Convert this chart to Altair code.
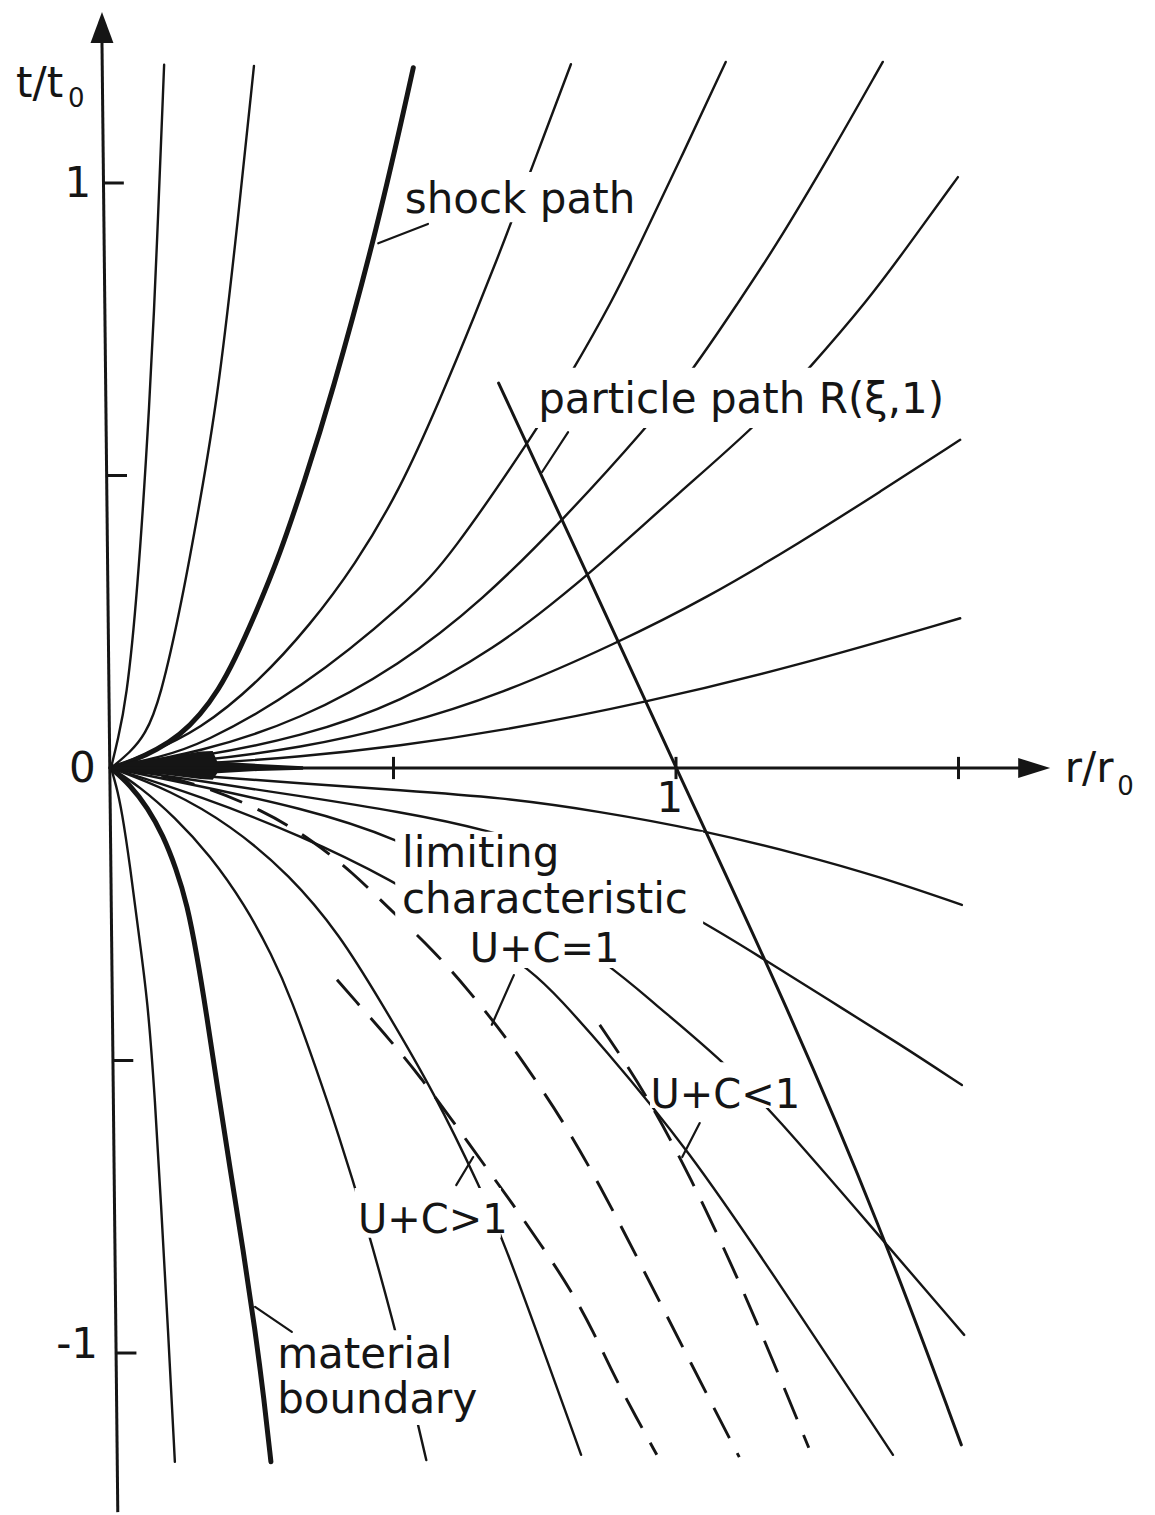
import altair as alt
import pandas as pd

INK = "#151515"
FONT = "DejaVu Sans"

# plotting window, in units of r/r0 (horizontal) and t/t0 (vertical)
R_DOMAIN = [-0.1965, 1.8478]
T_DOMAIN = [-1.2769, 1.3128]

# ---- characteristics above the r axis (t > 0), steepest first
up1_r = [0, 0.012, 0.027, 0.046, 0.069, 0.081, 0.094]
up1_t = [0, 0.048, 0.116, 0.287, 0.629, 0.885, 1.202]
up2_r = [0, 0.034, 0.060, 0.087, 0.126, 0.158, 0.188, 0.219, 0.253]
up2_t = [0, 0.027, 0.056, 0.116, 0.287, 0.458, 0.629, 0.885, 1.200]
up3_r = [0, 0.057, 0.158, 0.264, 0.352, 0.432, 0.511, 0.582, 0.644, 0.697, 0.750, 0.814]
up3_t = [0, 0.021, 0.065, 0.150, 0.244, 0.347, 0.475, 0.629, 0.774, 0.903, 1.039, 1.203]
up4_r = [0, 0.087, 0.158, 0.335, 0.529, 0.600, 0.750, 0.816, 0.888, 0.931, 1.007, 1.088]
up4_t = [0, 0.019, 0.039, 0.133, 0.287, 0.361, 0.573, 0.677, 0.800, 0.885, 1.039, 1.207]
up5_r = [0, 0.158, 0.335, 0.512, 0.658, 0.800, 0.949, 1.030, 1.113, 1.172, 1.273, 1.366]
up5_t = [0, 0.027, 0.082, 0.176, 0.287, 0.424, 0.583, 0.680, 0.800, 0.885, 1.048, 1.207]
up6_r = [0, 0.158, 0.335, 0.512, 0.688, 0.782, 0.848, 1.007, 1.143, 1.237, 1.340, 1.405, 1.499]
up6_t = [0, 0.019, 0.053, 0.111, 0.210, 0.282, 0.333, 0.472, 0.586, 0.684, 0.800, 0.885, 1.010]
up7_r = [0, 0.158, 0.335, 0.512, 0.688, 0.897, 1.055, 1.219, 1.361, 1.503]
up7_t = [0, 0.012, 0.034, 0.072, 0.125, 0.214, 0.291, 0.385, 0.472, 0.561]
up8_r = [0, 0.158, 0.335, 0.512, 0.688, 0.943, 1.219, 1.503]
up8_t = [0, 0.007, 0.019, 0.038, 0.063, 0.111, 0.176, 0.256]

# reflected shock
shock_r = [0, 0.039, 0.081, 0.122, 0.158, 0.190, 0.219, 0.255, 0.299, 0.343, 0.388, 0.473, 0.535]
shock_t = [0, 0.012, 0.031, 0.056, 0.091, 0.133, 0.185, 0.262, 0.365, 0.492, 0.629, 0.928, 1.197]

# ---- characteristics below the r axis (t < 0), flattest first
lo1_r = [0, 0.158, 0.335, 0.512, 0.688, 0.865, 1.044, 1.219, 1.361, 1.506]
lo1_t = [0, -0.014, -0.026, -0.038, -0.050, -0.074, -0.106, -0.147, -0.186, -0.234]
lo2_r = [0, 0.158, 0.335, 0.512, 0.658, 0.848, 1.037, 1.149, 1.271, 1.396, 1.506]
lo2_t = [0, -0.022, -0.048, -0.075, -0.103, -0.161, -0.256, -0.323, -0.397, -0.472, -0.542]
lo3_r = [0, 0.158, 0.335, 0.497, 0.697, 0.894, 0.954, 1.078, 1.175, 1.343, 1.510]
lo3_t = [0, -0.031, -0.068, -0.115, -0.214, -0.345, -0.397, -0.496, -0.593, -0.781, -0.969]
lo4_r = [0, 0.158, 0.335, 0.497, 0.627, 0.750, 0.796, 0.865, 1.023, 1.182, 1.384]
lo4_t = [0, -0.048, -0.115, -0.191, -0.268, -0.350, -0.397, -0.470, -0.653, -0.880, -1.174]
lo5_r = [0, 0.104, 0.211, 0.317, 0.405, 0.476, 0.573, 0.655, 0.696, 0.759, 0.832]
lo5_t = [0, -0.038, -0.097, -0.183, -0.285, -0.397, -0.556, -0.721, -0.812, -0.978, -1.174]
lo6_r = [0, 0.051, 0.113, 0.175, 0.237, 0.285, 0.320, 0.361, 0.402, 0.450, 0.501, 0.529, 0.558]
lo6_t = [0, -0.032, -0.084, -0.149, -0.234, -0.320, -0.397, -0.508, -0.624, -0.773, -0.952, -1.063, -1.183]
lo7_r = [0, 0.009, 0.019, 0.034, 0.048, 0.065, 0.078, 0.088, 0.101, 0.113]
lo7_t = [0, -0.029, -0.072, -0.169, -0.277, -0.397, -0.568, -0.738, -0.961, -1.186]

# material boundary
boundary_r = [0, 0.034, 0.065, 0.092, 0.115, 0.135, 0.152, 0.168, 0.189, 0.211, 0.234, 0.255, 0.271, 0.283]
boundary_t = [0, -0.029, -0.068, -0.115, -0.171, -0.234, -0.320, -0.414, -0.550, -0.687, -0.824, -0.961, -1.080, -1.186]

# characteristics with U + C > 1, = 1 (limiting) and < 1
sonic_gt_r = [0.400, 0.428, 0.494, 0.549, 0.600, 0.658, 0.710, 0.759, 0.814, 0.855, 0.890, 0.929, 0.966]
sonic_gt_t = [-0.362, -0.393, -0.465, -0.530, -0.597, -0.675, -0.744, -0.812, -0.892, -0.966, -1.038, -1.109, -1.174]
sonic_eq_r = [0, 0.087, 0.158, 0.269, 0.356, 0.428, 0.490, 0.570, 0.632, 0.696, 0.754, 0.804, 0.865, 0.931, 1.016, 1.112]
sonic_eq_t = [0, -0.012, -0.029, -0.072, -0.123, -0.179, -0.238, -0.311, -0.379, -0.456, -0.537, -0.610, -0.713, -0.836, -0.998, -1.178]
sonic_lt_r = [0.865, 0.947, 1.028, 1.103, 1.170, 1.235]
sonic_lt_t = [-0.439, -0.556, -0.704, -0.858, -1.009, -1.162]

# particle path R(xi, 1)
particle_r = [0.686, 0.840, 1.000, 1.192, 1.360, 1.505]
particle_t = [0.658, 0.338, 0.000, -0.397, -0.778, -1.157]

# ink pooled where the characteristics run together at the origin
blob_r = [0, 0.039, 0.099, 0.158, 0.180, 0.188, 0.260, 0.340]
blob_hi = [0, 0.012, 0.019, 0.028, 0.029, 0.011, 0.007, 0.003]
blob_lo = [0, -0.007, -0.012, -0.019, -0.020, -0.009, -0.005, -0.003]

# axis ticks
r_ticks = [0.5, 1.0, 1.5]
t_ticks = [1.0, 0.5, -0.5, -1.0]

# annotations
label_text = ["shock path", "particle path R(ξ,1)", "limiting", "characteristic",
              "material", "boundary"]
label_r = [0.520, 0.756, 0.515, 0.515, 0.294, 0.294]
label_t = [0.949, 0.607, -0.169, -0.248, -1.026, -1.103]

uc_text = ["U+C=1", "U+C<1", "U+C>1"]
uc_r = [0.635, 0.955, 0.437]
uc_t = [-0.332, -0.581, -0.795]

# short pointer strokes from the annotations to their curves
leader_r = [0.473, 0.763, 0.713, 1.042, 0.641, 0.255]
leader_t = [0.897, 0.506, -0.354, -0.607, -0.665, -0.921]
leader_r2 = [0.561, 0.809, 0.674, 1.011, 0.611, 0.320]
leader_t2 = [0.930, 0.574, -0.439, -0.665, -0.713, -0.964]

# blank areas kept clear behind each annotation
mask_r = [0.515, 0.750, 0.503, 0.609, 0.954, 0.431, 0.290]
mask_r2 = [0.950, 1.512, 1.048, 0.922, 1.225, 0.690, 0.653]
mask_t = [1.019, 0.684, -0.109, -0.270, -0.503, -0.718, -0.961]
mask_t2 = [0.933, 0.581, -0.270, -0.342, -0.581, -0.803, -1.123]

# hand-drawn t axis runs slightly off vertical
yaxis_r = [-0.016, 0.012]
yaxis_t = [1.240, -1.272]


def curves_frame(curves):
    rows = []
    for name, (rs, ts) in curves.items():
        for k, (r, t) in enumerate(zip(rs, ts)):
            rows.append({"curve": name, "k": k, "r": r, "t": t})
    return pd.DataFrame(rows)


thin_df = curves_frame({
    "up1": (up1_r, up1_t), "up2": (up2_r, up2_t), "up3": (up3_r, up3_t),
    "up4": (up4_r, up4_t), "up5": (up5_r, up5_t), "up6": (up6_r, up6_t),
    "up7": (up7_r, up7_t), "up8": (up8_r, up8_t),
    "lo1": (lo1_r, lo1_t), "lo2": (lo2_r, lo2_t), "lo3": (lo3_r, lo3_t),
    "lo4": (lo4_r, lo4_t), "lo5": (lo5_r, lo5_t), "lo6": (lo6_r, lo6_t),
    "lo7": (lo7_r, lo7_t),
})
thick_df = curves_frame({"shock": (shock_r, shock_t), "boundary": (boundary_r, boundary_t)})
dash_df = curves_frame({"gt": (sonic_gt_r, sonic_gt_t), "eq": (sonic_eq_r, sonic_eq_t),
                        "lt": (sonic_lt_r, sonic_lt_t)})
particle_df = curves_frame({"particle": (particle_r, particle_t)})

X = alt.X("r:Q", scale=alt.Scale(domain=R_DOMAIN, nice=False, zero=False), axis=None)
Y = alt.Y("t:Q", scale=alt.Scale(domain=T_DOMAIN, nice=False, zero=False), axis=None)


def line_layer(df, width, dash=None):
    kw = dict(color=INK, strokeWidth=width, interpolate="basis",
              strokeCap="round", strokeJoin="round")
    if dash:
        kw["strokeDash"] = dash
        kw["strokeCap"] = "butt"
    return alt.Chart(df).mark_line(**kw).encode(
        x=X, y=Y, detail="curve:N", order="k:Q")


thin = line_layer(thin_df, 2.4)
thick = line_layer(thick_df, 5.0)
dashed = line_layer(dash_df, 2.9, [34, 17])
particle = line_layer(particle_df, 3.0)

blob = alt.Chart(pd.DataFrame({"r": blob_r, "hi": blob_hi, "lo": blob_lo})).mark_area(
    color=INK, opacity=1, interpolate="linear").encode(
    x=X, y=alt.Y("hi:Q", scale=alt.Scale(domain=T_DOMAIN, nice=False, zero=False), axis=None),
    y2="lo:Q")

masks = alt.Chart(pd.DataFrame({"r": mask_r, "r2": mask_r2, "t": mask_t, "t2": mask_t2})
                  ).mark_rect(color="white").encode(x=X, x2="r2:Q", y=Y, y2="t2:Q")

# axes
y_top = yaxis_t[0]
slope = (yaxis_r[1] - yaxis_r[0]) / (yaxis_t[1] - yaxis_t[0])
yaxis = alt.Chart(pd.DataFrame({"r": [yaxis_r[0]], "t": [yaxis_t[0]],
                                "r2": [yaxis_r[1]], "t2": [yaxis_t[1]]})
                  ).mark_rule(color=INK, strokeWidth=3).encode(x=X, y=Y, x2="r2:Q", y2="t2:Q")
xaxis = alt.Chart(pd.DataFrame({"r": [0.0], "r2": [1.61], "t": [0.0]})
                  ).mark_rule(color=INK, strokeWidth=3).encode(x=X, x2="r2:Q", y=Y)

ytick_base = [yaxis_r[0] + slope * (t - y_top) for t in t_ticks]
yticks = alt.Chart(pd.DataFrame({"r": ytick_base, "r2": [b + 0.036 for b in ytick_base],
                                 "t": t_ticks})
                   ).mark_rule(color=INK, strokeWidth=3).encode(x=X, x2="r2:Q", y=Y)
xticks = alt.Chart(pd.DataFrame({"r": r_ticks, "t": [0.019] * 3, "t2": [-0.019] * 3})
                   ).mark_rule(color=INK, strokeWidth=3).encode(x=X, y=Y, y2="t2:Q")

arrow_up = alt.Chart(pd.DataFrame({"r": [-0.016], "t": [1.266]})).mark_point(
    shape="M0,-1L0.74,1L-0.74,1Z", size=961, filled=True, color=INK, opacity=1,
    strokeWidth=0).encode(x=X, y=Y)
arrow_right = alt.Chart(pd.DataFrame({"r": [1.634], "t": [0.0]})).mark_point(
    shape="M1,0L-1,0.625L-1,-0.625Z", size=1024, filled=True, color=INK, opacity=1,
    strokeWidth=0).encode(x=X, y=Y)


# axis titles, tick labels and annotations
def text_layer(texts, rs, ts, size, align="left"):
    df = pd.DataFrame({"label": texts, "r": rs, "t": ts})
    return alt.Chart(df).mark_text(font=FONT, fontSize=size, align=align,
                                   baseline="alphabetic", color=INK).encode(
        x=X, y=Y, text="label:N")


axis_titles = text_layer(["t/t", "r/r"], [-0.168, 1.688], [1.147, -0.024], 42)
axis_subs = text_layer(["0", "0"], [-0.076, 1.781], [1.130, -0.046], 26)
ytick_labels = text_layer(["1", "0", "-1"], [-0.035, -0.027, -0.023],
                          [0.976, -0.024, -1.009], 42, align="right")
xtick_labels = text_layer(["1"], [0.989], [-0.075], 42, align="center")

labels = text_layer(label_text, label_r, label_t, 42)
uc_labels = text_layer(uc_text, uc_r, uc_t, 40)

leaders = alt.Chart(pd.DataFrame({"r": leader_r, "t": leader_t, "r2": leader_r2,
                                  "t2": leader_t2})
                    ).mark_rule(color=INK, strokeWidth=2.2, strokeCap="round").encode(
    x=X, y=Y, x2="r2:Q", y2="t2:Q")

chart = alt.layer(
    thin, thick, dashed, blob, masks, particle,
    xaxis, yaxis, xticks, yticks, arrow_up, arrow_right,
    axis_titles, axis_subs, ytick_labels, xtick_labels,
    labels, uc_labels, leaders,
).properties(
    width=1155, height=1515, padding=0, autosize="none", background="white"
).configure_view(stroke=None)

chart.save("out.html", embed_options={"renderer": "svg", "actions": False})
